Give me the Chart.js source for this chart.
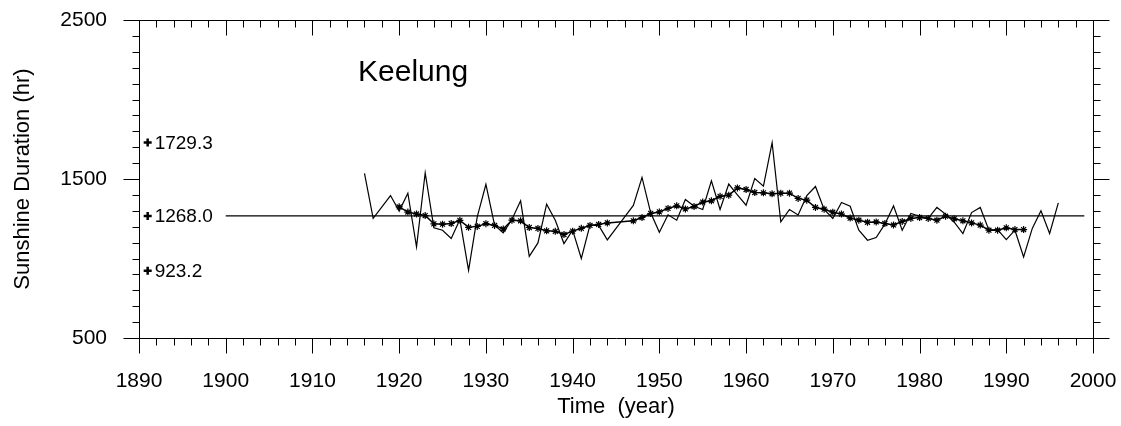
<!DOCTYPE html>
<html>
<head>
<meta charset="utf-8">
<script src="https://cdn.jsdelivr.net/npm/chart.js@4.4.1/dist/chart.umd.min.js"></script>
<style>
  html, body { margin: 0; padding: 0; background: #fff; overflow: hidden; }
  canvas { display: block; }
</style>
</head>
<body>
<canvas id="sunChart" width="1121" height="426"></canvas>
<script>
// annual sunshine duration, Keelung (1918, 1945, 1946 missing)
const years = [1916, 1917, 1919, 1920, 1921, 1922, 1923, 1924, 1925, 1926, 1927, 1928, 1929,
  1930, 1931, 1932, 1933, 1934, 1935, 1936, 1937, 1938, 1939, 1940, 1941, 1942, 1943, 1944,
  1947, 1948, 1949, 1950, 1951, 1952, 1953, 1954, 1955, 1956, 1957, 1958, 1959,
  1960, 1961, 1962, 1963, 1964, 1965, 1966, 1967, 1968, 1969,
  1970, 1971, 1972, 1973, 1974, 1975, 1976, 1977, 1978, 1979,
  1980, 1981, 1982, 1983, 1984, 1985, 1986, 1987, 1988, 1989,
  1990, 1991, 1992, 1993, 1994, 1995, 1996];
const sunshine = [1535, 1252, 1396, 1298, 1411, 1073, 1539, 1193, 1178, 1126, 1245, 926, 1262,
  1466, 1210, 1161, 1245, 1363, 1014, 1098, 1342, 1241, 1094, 1178, 1000, 1210, 1208, 1117,
  1334, 1510, 1287, 1165, 1275, 1241, 1371, 1329, 1308, 1488, 1308, 1468, 1400,
  1335, 1503, 1455, 1729, 1230, 1308, 1274, 1395, 1453, 1308,
  1252, 1352, 1329, 1178, 1115, 1132, 1216, 1331, 1178, 1283,
  1266, 1252, 1321, 1279, 1228, 1157, 1289, 1321, 1178, 1182,
  1119, 1178, 1010, 1189, 1300, 1157, 1350];

// smoothed curve (asterisks)
const smoothYears = [1920, 1921, 1922, 1923, 1924, 1925, 1926, 1927, 1928, 1929,
  1930, 1931, 1932, 1933, 1934, 1935, 1936, 1937, 1938, 1939, 1940, 1941, 1942, 1943, 1944,
  1947, 1948, 1949, 1950, 1951, 1952, 1953, 1954, 1955, 1956, 1957, 1958, 1959,
  1960, 1961, 1962, 1963, 1964, 1965, 1966, 1967, 1968, 1969,
  1970, 1971, 1972, 1973, 1974, 1975, 1976, 1977, 1978, 1979,
  1980, 1981, 1982, 1983, 1984, 1985, 1986, 1987, 1988, 1989,
  1990, 1991, 1992];
const smoothed = [1325, 1292, 1280, 1270, 1218, 1216, 1220, 1240, 1196, 1202,
  1219, 1208, 1186, 1241, 1237, 1195, 1189, 1174, 1171, 1151, 1172, 1190, 1208, 1214, 1224,
  1237, 1258, 1283, 1293, 1315, 1331, 1312, 1327, 1355, 1363, 1391, 1398, 1444,
  1434, 1415, 1413, 1407, 1411, 1411, 1378, 1367, 1321, 1310,
  1291, 1280, 1254, 1241, 1228, 1230, 1220, 1211, 1233, 1252,
  1258, 1252, 1241, 1266, 1250, 1237, 1224, 1210, 1178, 1178,
  1193, 1182, 1182];

// mean line and the three marked levels (max, mean, min)
const meanValue = 1268.0;
const meanSpan = [1900, 1999];
const markYear = 1891;
const markValues = [1729.3, 1268.0, 923.2];

const stationName = 'Keelung';
const xRange = [1890, 2000];
const yRange = [500, 2500];
const xMinorStep = 2, xMajorStep = 10;
const yMinorStep = 100, yMajorStep = 1000;

const FONT = "'Liberation Sans', Arial, sans-serif";

const framePlugin = {
    id: 'frame',
    afterDatasetsDraw(chart) {
        const { ctx, chartArea: a, scales: { x, y } } = chart;
        ctx.save();
        ctx.strokeStyle = '#000';
        ctx.lineWidth = 1;
        ctx.beginPath();
        const L = Math.round(a.left) + 0.5, R = Math.round(a.right) + 0.5;
        const T = Math.round(a.top) + 0.5, B = Math.round(a.bottom) + 0.5;
        ctx.rect(L, T, R - L, B - T);
        for (let yr = xRange[0]; yr <= xRange[1]; yr += xMinorStep) {
            const px = Math.round(x.getPixelForValue(yr)) + 0.5;
            const len = (yr - xRange[0]) % xMajorStep === 0 ? 15 : 7;
            ctx.moveTo(px, B); ctx.lineTo(px, B + len);
            ctx.moveTo(px, T); ctx.lineTo(px, T + len);
        }
        for (let v = yRange[0]; v <= yRange[1]; v += yMinorStep) {
            const py = Math.round(y.getPixelForValue(v)) + 0.5;
            const len = (v - yRange[0]) % yMajorStep === 0 ? 16 : 7;
            ctx.moveTo(L - len, py); ctx.lineTo(L, py);
            ctx.moveTo(R, py); ctx.lineTo(R + len, py);
        }
        ctx.stroke();

        // labels next to the cross marks
        ctx.fillStyle = '#000';
        ctx.font = '19px ' + FONT;
        ctx.textBaseline = 'middle';
        ctx.textAlign = 'left';
        markValues.forEach(v => {
            ctx.fillText(v.toFixed(1), x.getPixelForValue(markYear) + 7, y.getPixelForValue(v) + 1);
        });

        // station name
        ctx.font = '30px ' + FONT;
        ctx.textBaseline = 'alphabetic';
        ctx.fillText(stationName, a.left + 219, a.top + 61);
        ctx.restore();
    }
};

const ctx = document.getElementById('sunChart').getContext('2d');
new Chart(ctx, {
    type: 'line',
    data: {
        datasets: [
            {
                label: 'mean',
                data: meanSpan.map(yr => ({ x: yr, y: meanValue })),
                borderColor: '#000',
                borderWidth: 1.4,
                pointRadius: 0
            },
            {
                label: 'annual',
                data: years.map((yr, i) => ({ x: yr, y: sunshine[i] })),
                borderColor: '#000',
                borderWidth: 1.2,
                pointRadius: 0,
                tension: 0
            },
            {
                label: 'smoothed',
                data: smoothYears.map((yr, i) => ({ x: yr, y: smoothed[i] })),
                borderColor: '#000',
                backgroundColor: '#000',
                borderWidth: 1.5,
                pointStyle: 'star',
                pointRadius: 3.5,
                pointBorderWidth: 1.2,
                tension: 0
            },
            {
                label: 'marks',
                data: markValues.map(v => ({ x: markYear, y: v })),
                showLine: false,
                borderColor: '#000',
                pointStyle: 'cross',
                pointRadius: 4,
                pointBorderWidth: 2.5
            }
        ]
    },
    options: {
        responsive: false,
        animation: false,
        devicePixelRatio: 1,
        layout: { padding: { top: 20, right: 28, left: 0, bottom: 0 } },
        plugins: {
            legend: { display: false },
            tooltip: { enabled: false }
        },
        scales: {
            x: {
                type: 'linear',
                min: xRange[0],
                max: xRange[1],
                grid: { display: false, drawTicks: false },
                border: { display: false },
                ticks: {
                    stepSize: xMajorStep,
                    autoSkip: false,
                    maxRotation: 0,
                    padding: 31,
                    color: '#000',
                    font: { family: FONT, size: 21 },
                    callback: v => String(v)
                },
                title: {
                    display: true,
                    text: 'Time  (year)',
                    color: '#000',
                    font: { family: FONT, size: 22 },
                    padding: { top: 0, bottom: 6 }
                },
                afterFit: s => {
                    s.height = 88;
                    s.paddingLeft = 0; s.paddingRight = 0;
                }
            },
            y: {
                min: yRange[0],
                max: yRange[1],
                grid: { display: false, drawTicks: false },
                border: { display: false },
                ticks: {
                    stepSize: yMajorStep,
                    padding: 32,
                    color: '#000',
                    font: { family: FONT, size: 21 },
                    callback: v => String(v)
                },
                title: {
                    display: true,
                    text: 'Sunshine Duration (hr)',
                    color: '#000',
                    font: { family: FONT, size: 22 },
                    padding: { top: 10, bottom: 0 }
                },
                afterFit: s => {
                    s.width = 139;
                    s.paddingTop = 0; s.paddingBottom = 0;
                }
            }
        }
    },
    plugins: [framePlugin]
});
</script>
</body>
</html>
